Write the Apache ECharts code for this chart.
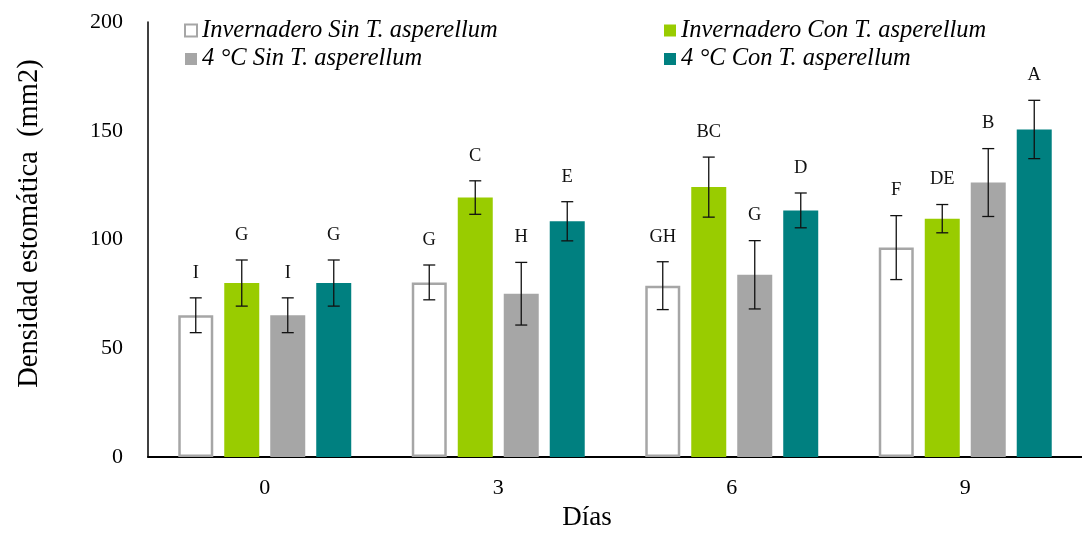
<!DOCTYPE html>
<html>
<head>
<meta charset="utf-8">
<script src="https://cdn.jsdelivr.net/npm/echarts@6/dist/echarts.min.js"></script>
<style>
  html, body { margin: 0; padding: 0; background: #fff; }
  #chart { width: 1082px; height: 536px; }
</style>
</head>
<body>
<div id="chart"></div>
<script>
// Days after harvest
const dias = ['0', '3', '6', '9'];

// Stomatal density (mean) per treatment
const invSin = [65.2, 80.3, 78.8, 96.3];
const invCon = [80.0, 119.3, 124.1, 109.6];
const fSin   = [65.2, 75.1, 83.8, 126.2];
const fCon   = [80.0, 108.4, 113.4, 150.6];

// Standard deviation per treatment
const errInvSin = [8.0, 8.0, 11.0, 14.7];
const errInvCon = [10.6, 7.7, 13.8, 6.5];
const errFSin   = [8.0, 14.4, 15.7, 15.6];
const errFCon   = [10.6, 9.0, 8.0, 13.4];

// Significance letters
const letInvSin = ['I', 'G', 'GH', 'F'];
const letInvCon = ['G', 'C', 'BC', 'DE'];
const letFSin   = ['I', 'H', 'G', 'B'];
const letFCon   = ['G', 'E', 'D', 'A'];

const seriesNames = [
  'Invernadero Sin T. asperellum',
  'Invernadero Con T. asperellum',
  '4 °C Sin T. asperellum',
  '4 °C Con T. asperellum'
];

const yTicks = [0, 50, 100, 150, 200];

const SERIF = '"Liberation Serif", "Times New Roman", serif';
const BAR_W = 35;
const BAR_GAP = 11;

const groups = [
  { name: seriesNames[0], values: invSin, errs: errInvSin, letters: letInvSin,
    itemStyle: { color: '#ffffff', borderColor: '#a6a6a6', borderWidth: 2.5 } },
  { name: seriesNames[1], values: invCon, errs: errInvCon, letters: letInvCon,
    itemStyle: { color: '#99cc00' } },
  { name: seriesNames[2], values: fSin, errs: errFSin, letters: letFSin,
    itemStyle: { color: '#a6a6a6' } },
  { name: seriesNames[3], values: fCon, errs: errFCon, letters: letFCon,
    itemStyle: { color: '#008080' } }
];

const barSeries = groups.map(g => ({
  name: g.name,
  type: 'bar',
  data: g.values,
  barWidth: BAR_W,
  barGap: (BAR_GAP / BAR_W * 100).toFixed(1) + '%',
  itemStyle: g.itemStyle,
  emphasis: { disabled: true },
  z: 2
}));

// Error bars and letters, shifted onto each bar of the group
const errorSeries = groups.map((g, k) => {
  const offset = (k - 1.5) * (BAR_W + BAR_GAP);
  return {
    type: 'custom',
    silent: true,
    z: 5,
    data: g.values.map((v, i) => [i, v, g.errs[i]]),
    encode: { x: 0, y: 1 },
    renderItem: function (params, api) {
      const i = api.value(0);
      const v = api.value(1);
      const e = api.value(2);
      const hi = api.coord([i, v + e]);
      const lo = api.coord([i, v - e]);
      const x = hi[0] + offset;
      const cap = 6;
      const ls = { stroke: '#111', lineWidth: 1.3 };
      return {
        type: 'group',
        children: [
          { type: 'line', shape: { x1: x, y1: hi[1], x2: x, y2: lo[1] }, style: ls },
          { type: 'line', shape: { x1: x - cap, y1: hi[1], x2: x + cap, y2: hi[1] }, style: ls },
          { type: 'line', shape: { x1: x - cap, y1: lo[1], x2: x + cap, y2: lo[1] }, style: ls },
          { type: 'text', x: x, y: hi[1] - 25,
            style: { text: g.letters[i], fill: '#111', font: '18.5px ' + SERIF,
                     align: 'center', verticalAlign: 'middle' } }
        ]
      };
    }
  };
});

const legendText = { fontFamily: SERIF, fontSize: 24.5, fontStyle: 'italic', color: '#000', lineHeight: 24 };

const legendBase = {
  orient: 'vertical', top: 18, padding: 0,
  itemWidth: 12, itemHeight: 12, itemGap: 3.5, itemTextGap: 4,
  icon: 'rect', textStyle: legendText, selectedMode: false
};

const option = {
  animation: false,
  backgroundColor: '#ffffff',
  grid: { left: 148, top: 22, width: 948, height: 441, containLabel: false },
  legend: [
    Object.assign({ data: [seriesNames[0], seriesNames[2]], left: 184 }, legendBase),
    Object.assign({ data: [seriesNames[1], seriesNames[3]], left: 664 }, legendBase)
  ],
  xAxis: {
    type: 'category',
    data: dias,
    name: 'Días',
    nameLocation: 'middle',
    nameGap: 42,
    nameTextStyle: { fontFamily: SERIF, fontSize: 27, color: '#000', padding: [0, 56, 0, 0] },
    axisLine: { lineStyle: { color: '#000', width: 2 } },
    axisTick: { show: false },
    axisLabel: { fontFamily: SERIF, fontSize: 22, color: '#000', margin: 20 }
  },
  yAxis: {
    type: 'value',
    min: yTicks[0],
    max: yTicks[yTicks.length - 1],
    interval: yTicks[1] - yTicks[0],
    name: 'Densidad estomática  (mm2)',
    nameLocation: 'middle',
    nameGap: 104,
    nameTextStyle: { fontFamily: SERIF, fontSize: 28.5, color: '#000', padding: [0, 0, 0, 32] },
    axisLine: { show: true, lineStyle: { color: '#000', width: 1.5 } },
    axisTick: { show: false },
    splitLine: { show: false },
    axisLabel: { fontFamily: SERIF, fontSize: 22, color: '#000', margin: 25 }
  },
  series: barSeries.concat(errorSeries)
};

const chart = echarts.init(document.getElementById('chart'), null, { renderer: 'canvas' });
chart.setOption(option);
</script>
</body>
</html>
